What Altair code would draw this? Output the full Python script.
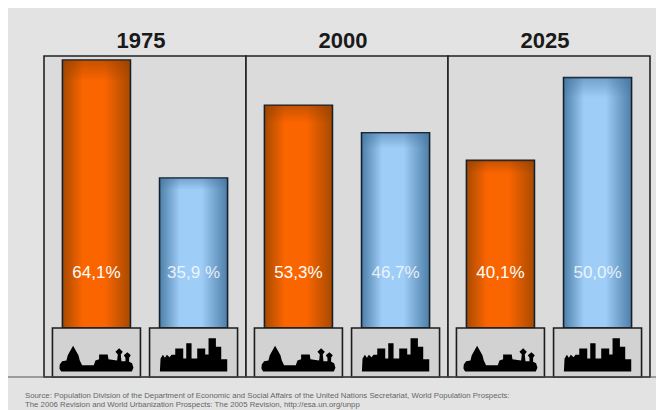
import altair as alt
import pandas as pd

years = ["1975", "1975", "2000", "2000", "2025", "2025"]
groups = ["rural", "urban"] * 3
values = [64.1, 35.9, 53.3, 46.7, 40.1, 59.9]
labels = ["64,1%", "35,9 %", "53,3%", "46,7%", "40,1%", "50,0%"]
year_names = ["1975", "2000", "2025"]
source_lines = [
    "Source: Population Division of the Department of Economic and Social Affairs of the United Nations Secretariat, World Population Prospects:",
    "The 2006 Revision and World Urbanization Prospects: The 2005 Revision, http://esa.un.org/unpp",
]

Y_MIN, Y_MAX = -11.72, 65.07
ICON_Y = -7.3
LABEL_Y = 13.2

rural_outline = [(48,128),(55,118),(68,116),(72,100),(88,72),(104,100),(108,116),(115,130),(150,130),(155,116),
                 (166,112),(166,98),(192,98),(194,112),(220,116),(222,98),(215,90),(226,79),(237,90),(231,98),
                 (233,118),(245,118),(245,108),(240,100),(251,91),(261,100),(256,108),(256,120),(265,124),(269,138),
                 (264,149),(52,149),(47,140)]
urban_outline = [(47,149),(49,110),(56,99),(62,108),(68,99),(76,106),(82,99),(93,99),(93,80),(117,80),(117,110),
                 (126,110),(126,64),(142,64),(142,110),(159,110),(159,80),(183,80),(183,98),(193,98),(193,49),
                 (215,49),(215,75),(231,75),(231,112),(249,112),(249,149)]

def icon_path(points, cx, cy=110, k=111.0):
    return "M" + "L".join(f"{(x-cx)/k:.3f},{(y-cy)/k:.3f}" for x, y in points) + "Z"

df = pd.DataFrame({"year": years, "group": groups, "value": values, "label": labels})
df["zero"] = 0.0
df["low"] = Y_MIN
df["icon_y"] = ICON_Y
df["label_y"] = LABEL_Y
frames = pd.DataFrame({"year": year_names, "top": [Y_MAX] * 3, "bottom": [Y_MIN] * 3})

y_scale = alt.Scale(domain=[Y_MIN, Y_MAX], nice=False, zero=False)
x_noaxis = alt.X("year:N", axis=None, scale=alt.Scale(domain=year_names, paddingInner=0, paddingOuter=0))
offset = alt.XOffset("group:N", scale=alt.Scale(domain=["rural", "urban"], paddingInner=0, paddingOuter=0.04))
y_val = alt.Y("value:Q", scale=y_scale, axis=None)

def grad(edge, mid):
    return alt.Gradient(gradient="linear", x1=0, x2=1, y1=0, y2=0, stops=[
        alt.GradientStop(offset=0, color=edge), alt.GradientStop(offset=0.3, color=mid),
        alt.GradientStop(offset=0.62, color=mid), alt.GradientStop(offset=1, color=edge)])

def top_fade(color):
    return alt.Gradient(gradient="linear", x1=0, x2=0, y1=0, y2=1, stops=[
        alt.GradientStop(offset=0, color=color + "77"), alt.GradientStop(offset=0.08, color=color + "00")])

base = alt.Chart(df)
rural = base.transform_filter("datum.group == 'rural'")
urban = base.transform_filter("datum.group == 'urban'")

frame = alt.Chart(frames).mark_rect(fill="#dbdbdb", stroke="#222222", strokeWidth=1.6).encode(
    x=x_noaxis,
    y=alt.Y("top:Q", scale=y_scale, axis=None),
    y2="bottom:Q",
)

year_text = alt.Chart(frames).mark_text(
    font="Liberation Sans", fontSize=22, fontWeight="bold", color="#1a1a1a", baseline="middle", dx=-4).encode(
    x=x_noaxis, y=alt.value(-15), text="year:N")

def bars(src, edge, mid, fade):
    enc = dict(x=x_noaxis, xOffset=offset, y=y_val, y2="zero:Q")
    main = src.mark_bar(width=68, color=grad(edge, mid), stroke="#14202c", strokeWidth=1.6).encode(**enc)
    shade = src.mark_bar(width=66, color=top_fade(fade)).encode(**enc)
    return main + shade

orange = bars(rural, "#a84a00", "#fb6500", "#8a3a00")
blue = bars(urban, "#4d7fa8", "#9ecdf7", "#3f6f98")

boxes = base.mark_bar(width=88, color="#d2d2d2", stroke="#1c1c1c", strokeWidth=1.6).encode(
    x=x_noaxis, xOffset=offset, y=alt.Y("zero:Q", scale=y_scale, axis=None), y2="low:Q")

def icons(src, outline, cx):
    return src.mark_point(shape=icon_path(outline, cx), filled=True, size=5476, color="black", opacity=1).encode(
        x=x_noaxis, xOffset=offset, y=alt.Y("icon_y:Q", scale=y_scale, axis=None))

def pct(src, op):
    return src.mark_text(color="white", font="Liberation Sans", fontSize=17, opacity=op).encode(
        x=x_noaxis, xOffset=offset, y=alt.Y("label_y:Q", scale=y_scale, axis=None), text="label:N")

baseline_rule = alt.Chart(pd.DataFrame({"a": [0]})).mark_rule(color="#555555", strokeWidth=1).encode(
    x=alt.value(-36), x2=alt.value(612), y=alt.value(321))

def source(line, py):
    return alt.Chart(pd.DataFrame({"t": [line]})).mark_text(
        align="left", baseline="middle", font="Liberation Sans", fontSize=7.8, color="#666666").encode(
        x=alt.value(-19), y=alt.value(py), text="t:N")

chart = alt.layer(
    frame, year_text, orange, blue, boxes,
    icons(rural, rural_outline, 158), icons(urban, urban_outline, 148),
    pct(rural, 1), pct(urban, 0.8),
    baseline_rule, source(source_lines[0], 340), source(source_lines[1], 348.5),
).properties(
    width=606, height=321, background="#e3e3e3",
    padding={"left": 36, "top": 48, "right": 6, "bottom": 33},
    autosize=alt.AutoSizeParams(type="none"),
).configure_view(stroke=None)

chart.save("out.html", embed_options={"renderer": "svg", "actions": False})
